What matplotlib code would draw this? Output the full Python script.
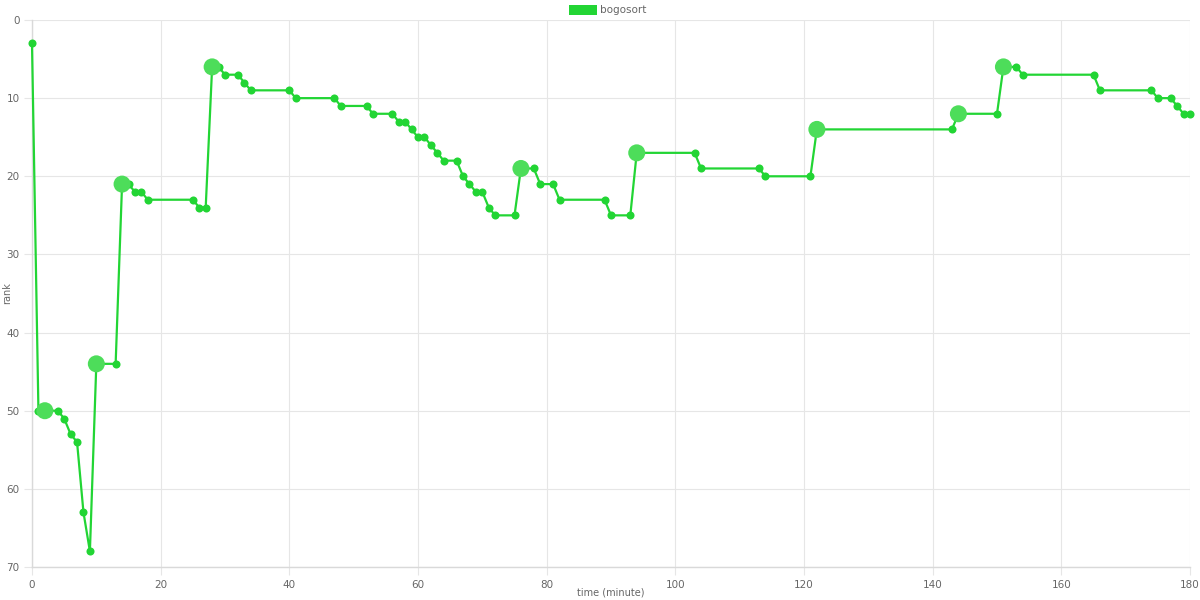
import numpy as np
import matplotlib.pyplot as plt
from matplotlib.patches import Rectangle

# rank over time
minutes = [0, 1, 2, 4, 5, 6, 7, 8, 9, 10, 13, 14, 15, 16, 17, 18, 25, 26, 27,
           28, 29, 30, 32, 33, 34, 40, 41, 47, 48, 52, 53, 56, 57, 58, 59, 60,
           61, 62, 63, 64, 66, 67, 68, 69, 70, 71, 72, 75, 76, 78, 79, 81, 82,
           89, 90, 93, 94, 103, 104, 113, 114, 121, 122, 143, 144, 150, 151,
           153, 154, 165, 166, 174, 175, 177, 178, 179, 180]
ranks = [3, 50, 50, 50, 51, 53, 54, 63, 68, 44, 44, 21, 21, 22, 22, 23, 23, 24, 24,
         6, 6, 7, 7, 8, 9, 9, 10, 10, 11, 11, 12, 12, 13, 13, 14, 15,
         15, 16, 17, 18, 18, 20, 21, 22, 22, 24, 25, 25, 19, 19, 21, 21, 23,
         23, 25, 25, 17, 17, 19, 19, 20, 20, 14, 14, 12, 12, 6,
         6, 7, 7, 9, 9, 10, 10, 11, 12, 12]
# minutes where a bigger marker is drawn
big_minutes = [2, 10, 14, 28, 76, 94, 122, 144, 151]

green = '#22d534'
tick_grey = '#666666'

fig = plt.figure(figsize=(12, 6), dpi=100)
ax = fig.add_axes([32/1200, 1 - 567/600, 1158/1200, 547/600])

ax.plot(minutes, ranks, color=green, linewidth=1.6, zorder=3,
        marker='o', markersize=5.8, markeredgewidth=0, clip_on=False)
big_ranks = [ranks[minutes.index(m)] for m in big_minutes]
ax.scatter(big_minutes, big_ranks, s=150, color='#4ddd5a', edgecolors='none',
           zorder=4, clip_on=False)

ax.set_xlim(0, 180)
ax.set_ylim(70, 0)
ax.set_xticks(np.arange(0, 181, 20))
ax.set_yticks(np.arange(0, 71, 10))
ax.grid(True, color='#e6e6e6', linewidth=0.8)
ax.set_axisbelow(True)
for side in ['top', 'right']:
    ax.spines[side].set_visible(False)
for side in ['left', 'bottom']:
    ax.spines[side].set_color('#d9d9d9')
    ax.spines[side].set_linewidth(1.0)
ax.tick_params(colors='#e6e6e6', labelcolor=tick_grey, labelsize=7.5,
               length=6, width=0.8, pad=3)

ax.set_xlabel('time (minute)', color=tick_grey, fontsize=7)
ax.set_ylabel('rank', color=tick_grey, fontsize=7)
ax.xaxis.set_label_coords(0.5, -0.038)
ax.yaxis.set_label_coords(-0.017, 0.5)

# legend box on top, drawn like the chart.js one
fig.add_artist(Rectangle((569/1200, 1 - 15/600), 28/1200, 10/600,
                         transform=fig.transFigure, facecolor=green,
                         edgecolor='none'))
fig.text(600/1200, 1 - 10/600, 'bogosort', color=tick_grey, fontsize=7.5,
         va='center', ha='left')

plt.savefig('out.png', dpi=100)
